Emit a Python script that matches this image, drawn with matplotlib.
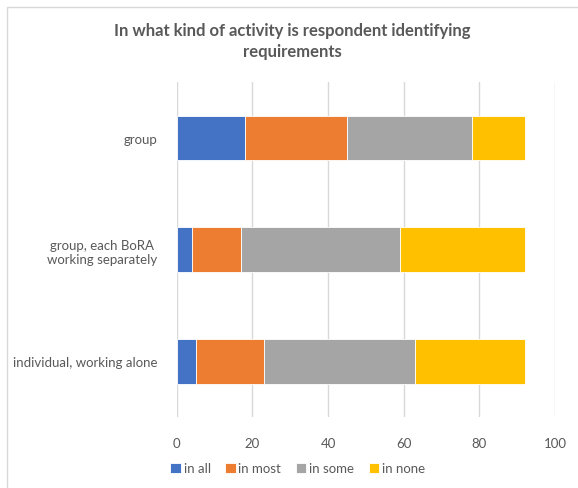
import matplotlib.pyplot as plt
from matplotlib.patches import Rectangle

categories = ['individual, working alone',
              'group, each BoRA\nworking separately',
              'group']
in_all = [5, 4, 18]
in_most = [18, 13, 27]
in_some = [40, 42, 33]
in_none = [29, 33, 14]

series = [('in all', in_all, '#4472C4'),
          ('in most', in_most, '#ED7D31'),
          ('in some', in_some, '#A5A5A5'),
          ('in none', in_none, '#FFC000')]

plt.rcParams['font.family'] = ['Lato', 'DejaVu Sans']
txt = '#595959'

fig = plt.figure(figsize=(5.78, 4.89), dpi=100)
ax = fig.add_axes([0.306, 0.145, 0.654, 0.685])

left = [0] * len(categories)
for name, vals, col in series:
    ax.barh(range(len(categories)), vals, left=left, height=0.4,
            color=col, label=name, edgecolor='white', linewidth=0.6)
    left = [l + v for l, v in zip(left, vals)]

ax.set_xlim(0, 100)
ax.set_ylim(-0.5, 2.5)
ax.set_xticks(range(0, 101, 20))
ax.set_yticks(range(len(categories)))
ax.set_yticklabels(categories, ha='right', multialignment='center')
ax.tick_params(axis='y', pad=14, length=0, labelsize=9.5, colors=txt)
ax.tick_params(axis='x', length=0, labelsize=9.5, colors=txt, pad=14)
ax.xaxis.grid(True, color='#d9d9d9', linewidth=1)
ax.set_axisbelow(True)
for s in ax.spines.values():
    s.set_visible(False)

fig.text(0.505, 0.915, 'In what kind of activity is respondent identifying\nrequirements',
         ha='center', va='center', fontsize=12, fontweight='bold', color=txt,
         linespacing=1.45)

fig.legend(loc='center', bbox_to_anchor=(0.515, 0.04), ncol=4, frameon=False,
           fontsize=9.5, labelcolor=txt, handlelength=0.8, handleheight=0.8,
           handletextpad=0.2, columnspacing=1.1)

# light frame around the chart area
fig.patches.append(Rectangle((7 / 578, -0.1), 1.2, 1.1 - 8 / 489,
                             transform=fig.transFigure, fill=False,
                             edgecolor='#d9d9d9', linewidth=1))

fig.savefig('out.png', dpi=100)
